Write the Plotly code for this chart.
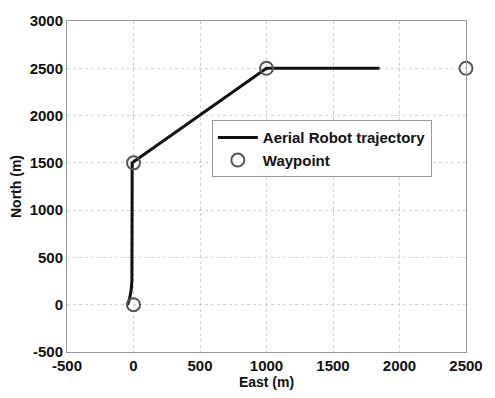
import plotly.graph_objects as go

traj_east = [-45, -30, -18, -12, -10, 1000, 1850]
traj_north = [0, 60, 150, 250, 1500, 2500, 2500]
wp_east = [0, 0, 1000, 2500]
wp_north = [0, 1500, 2500, 2500]
x_ticks = [-500, 0, 500, 1000, 1500, 2000, 2500]
x_labels = ["-500", "0", "500", "1000", "1500", "2000", "2500"]
y_ticks = [-500, 0, 500, 1000, 1500, 2000, 2500, 3000]
y_labels = ["-500", "0", "500", "1000", "1500", "2000", "2500", "3000"]

FONT = "Liberation Sans, Arial"

fig = go.Figure()
fig.add_trace(go.Scatter(x=traj_east, y=traj_north, mode="lines",
                         line=dict(color="#111111", width=3),
                         name="Aerial Robot trajectory"))
fig.add_trace(go.Scatter(x=wp_east, y=wp_north, mode="markers",
                         marker=dict(symbol="circle-open", size=13, color="#555555",
                                     line=dict(width=2, color="#555555")),
                         cliponaxis=False, name="Waypoint"))

axis_common = dict(showgrid=True, gridcolor="#d0d0d0", griddash="dot", gridwidth=1,
                   showline=True, linecolor="#999999", linewidth=1, mirror=True,
                   zeroline=False, ticks="",
                   tickfont=dict(family=FONT, size=15, color="#111111", weight="bold"))

fig.update_xaxes(range=[-500, 2500], tickvals=x_ticks, ticktext=x_labels, **axis_common,
                 title=dict(text="East (m)", standoff=2,
                            font=dict(family=FONT, size=14, color="#111111", weight="bold")))
fig.update_yaxes(range=[-500, 3000], tickvals=y_ticks, ticktext=y_labels, **axis_common,
                 title=dict(text="North (m)", standoff=4,
                            font=dict(family=FONT, size=14, color="#111111", weight="bold")))

fig.update_layout(
    width=495, height=398,
    margin=dict(l=67, r=17, t=14, b=41),
    paper_bgcolor="white", plot_bgcolor="white",
    showlegend=True,
    legend=dict(x=0.363, y=0.70, xanchor="left", yanchor="top",
                bgcolor="white", bordercolor="#999999", borderwidth=1,
                font=dict(family=FONT, size=15, color="#111111", weight="bold"),
                tracegroupgap=0, itemwidth=40),
)

fig.write_html("out.html")
